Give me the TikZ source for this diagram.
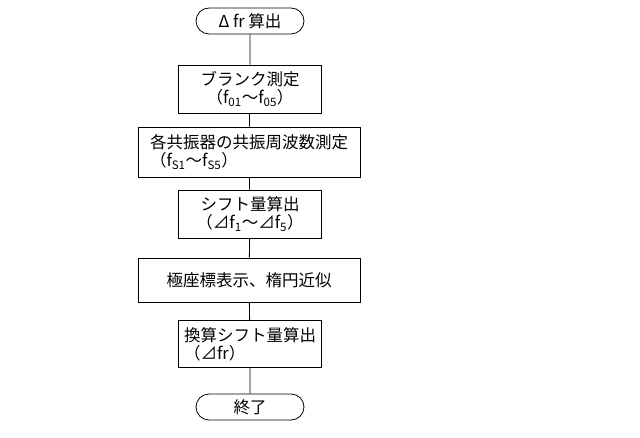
\documentclass[tikz,border=0pt]{standalone}
\usepackage{fontspec}
\setmainfont{Noto Sans CJK JP}
\tikzset{
  procbox/.style={draw,line width=0.8pt,minimum height=48pt,inner sep=2pt,font=\fontsize{16.5}{18}\selectfont},
  termbox/.style={draw,line width=0.8pt,rounded corners=13pt,minimum width=108pt,minimum height=26pt,inner sep=1pt,font=\fontsize{16.5}{18}\selectfont},
}
\newcommand{\lo}[1]{\textsubscript{#1}}
\begin{document}
\begin{tikzpicture}[x=1pt,y=1pt,yscale=-1]
\useasboundingbox (0,0) rectangle (640,438);

% terminals
\node[termbox] (start) at (250,21) {Δ fr 算出};
\node[termbox] (stop) at (250,407) {終了};

% process steps
\node[procbox,minimum width=143pt,align=center] (blank) at (250,89) {ブランク測定\\（f\lo{01}～f\lo{05}）};
\node[procbox,minimum width=222pt,minimum height=50pt,align=left] (reso) at (249,152) {各共振器の共振周波数測定\\（f\lo{S1}～f\lo{S5}）};
\node[procbox,minimum width=143pt,align=center] (shift) at (250,214) {シフト量算出\\（⊿f\lo{1}～⊿f\lo{5}）};
\node[procbox,minimum width=222pt,minimum height=44pt] (polar) at (249,280) {極座標表示、楕円近似};
\node[procbox,minimum width=143pt,minimum height=47pt,align=left] (conv) at (250,344) {換算シフト量算出\\（⊿fr）};

% connectors
\draw[line width=0.8pt] (start) -- (blank) -- (reso) -- (shift) -- (polar) -- (conv) -- (stop);
\end{tikzpicture}
\end{document}
